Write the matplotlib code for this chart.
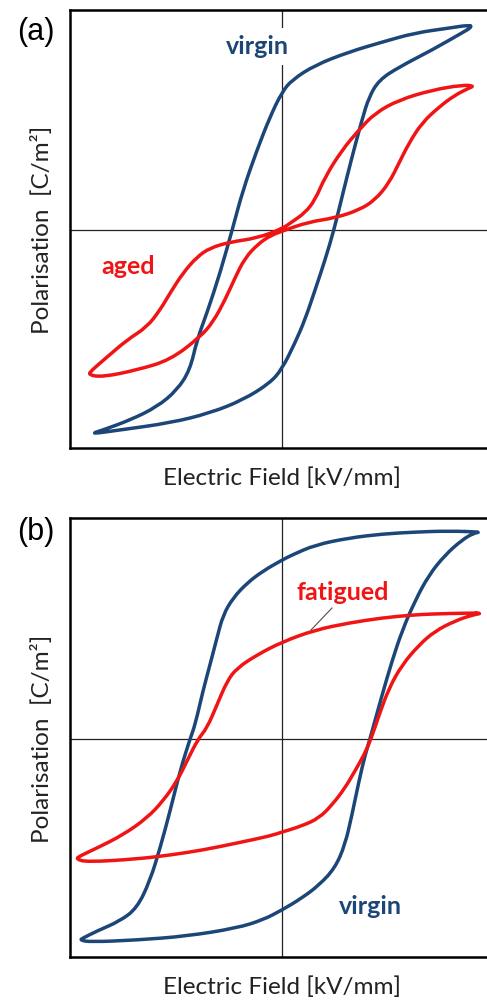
import matplotlib
matplotlib.use("Agg")
import matplotlib.pyplot as plt
from matplotlib.path import Path
from matplotlib.patches import PathPatch

W, H = 487, 1001
DPI = 100

BLUE = "#1c4677"
RED = "#f01414"

# --- (a) virgin vs aged loops (field, polarisation; normalised units) ---
virgin_a_E = [0.896, 0.882, 0.788, 0.627, 0.472, 0.316, 0.156, 0.047, 0.0, -0.057, -0.118,
              -0.184, -0.231, -0.292, -0.354, -0.401, -0.434, -0.495, -0.590, -0.717, -0.844,
              -0.906, -0.764, -0.528, -0.340, -0.184, -0.057, 0.0, 0.061, 0.108, 0.156, 0.203,
              0.245, 0.283, 0.330, 0.377, 0.410, 0.458, 0.552, 0.708, 0.849, 0.896]
virgin_a_P = [0.927, 0.936, 0.922, 0.900, 0.858, 0.813, 0.753, 0.685, 0.630, 0.516, 0.365,
              0.183, 0.014, -0.196, -0.379, -0.502, -0.639, -0.731, -0.808, -0.868, -0.913,
              -0.932, -0.913, -0.881, -0.836, -0.776, -0.699, -0.635, -0.516, -0.411, -0.274,
              -0.137, 0.0, 0.151, 0.333, 0.502, 0.607, 0.685, 0.744, 0.822, 0.900, 0.927]

aged_E = [0.906, 0.849, 0.708, 0.552, 0.439, 0.363, 0.283, 0.203, 0.156, 0.108, 0.047, 0.0,
          -0.118, -0.245, -0.340, -0.401, -0.467, -0.528, -0.575, -0.637, -0.731, -0.825,
          -0.896, -0.915, -0.844, -0.684, -0.528, -0.387, -0.325, -0.269, -0.222, -0.175,
          -0.113, -0.057, 0.0, 0.127, 0.250, 0.363, 0.439, 0.505, 0.552, 0.599, 0.660, 0.741,
          0.816, 0.882, 0.906]
aged_P = [0.658, 0.662, 0.639, 0.594, 0.534, 0.457, 0.365, 0.242, 0.137, 0.078, 0.037, 0.005,
          -0.037, -0.055, -0.082, -0.123, -0.196, -0.288, -0.365, -0.443, -0.502, -0.580,
          -0.639, -0.662, -0.671, -0.639, -0.594, -0.489, -0.420, -0.320, -0.219, -0.128,
          -0.064, -0.027, -0.005, 0.037, 0.055, 0.091, 0.137, 0.215, 0.306, 0.397, 0.489, 0.562,
          0.616, 0.648, 0.658]

# --- (b) virgin vs fatigued loops ---
virgin_b_E = [0.939, 0.788, 0.627, 0.472, 0.316, 0.156, 0.047, 0.0, -0.090, -0.165, -0.231,
              -0.278, -0.307, -0.340, -0.373, -0.410, -0.434, -0.481, -0.528, -0.575, -0.623,
              -0.684, -0.764, -0.873, -0.939, -0.953, -0.906, -0.684, -0.448, -0.212, -0.090,
              0.0, 0.094, 0.175, 0.250, 0.297, 0.330, 0.363, 0.392, 0.415, 0.472, 0.519, 0.566,
              0.627, 0.693, 0.769, 0.849, 0.906, 0.939]
virgin_b_P = [0.945, 0.950, 0.945, 0.936, 0.918, 0.886, 0.840, 0.817, 0.767, 0.712, 0.644,
              0.566, 0.461, 0.338, 0.219, 0.064, 0.0, -0.146, -0.329, -0.498, -0.648, -0.772,
              -0.831, -0.877, -0.909, -0.918, -0.927, -0.918, -0.900, -0.863, -0.826, -0.781,
              -0.726, -0.667, -0.589, -0.484, -0.347, -0.192, -0.073, 0.0, 0.201, 0.356, 0.493,
              0.630, 0.749, 0.840, 0.909, 0.941, 0.945]

fatigued_E = [0.948, 0.882, 0.708, 0.613, 0.472, 0.316, 0.156, 0.0, -0.118, -0.212, -0.259,
              -0.307, -0.354, -0.396, -0.448, -0.495, -0.561, -0.637, -0.750, -0.873, -0.953,
              -0.972, -0.920, -0.684, -0.528, -0.373, -0.212, -0.057, 0.0, 0.094, 0.175, 0.236,
              0.297, 0.344, 0.387, 0.420, 0.458, 0.505, 0.566, 0.646, 0.722, 0.816, 0.896, 0.948]
fatigued_P = [0.575, 0.575, 0.571, 0.566, 0.553, 0.530, 0.498, 0.443, 0.384, 0.324, 0.265,
              0.155, 0.050, 0.0, -0.100, -0.192, -0.283, -0.361, -0.438, -0.498, -0.534,
              -0.548, -0.562, -0.548, -0.530, -0.507, -0.475, -0.443, -0.425, -0.397, -0.361,
              -0.301, -0.224, -0.146, -0.073, 0.0, 0.110, 0.233, 0.338, 0.429, 0.493, 0.539,
              0.566, 0.575]

XLABEL = "Electric Field [kV/mm]"
YLABEL = "Polarisation  [C/m²]"

plt.rcParams["font.family"] = ["Lato", "DejaVu Sans"]

fig = plt.figure(figsize=(W / DPI, H / DPI), dpi=DPI)


def px_axes(left, top, right, bottom):
    # axes rectangle given in pixel coordinates (origin top-left)
    return fig.add_axes([left / W, 1 - bottom / H, (right - left) / W, (bottom - top) / H])


def setup(ax, y0, top, bottom):
    ax.set_xlim(-1, 1)
    ax.set_ylim(-(bottom - y0) / 219, (y0 - top) / 219)
    ax.set_xticks([])
    ax.set_yticks([])
    for s in ax.spines.values():
        s.set_linewidth(1.8)
        s.set_color("black")
    ax.axhline(0, color="#222222", lw=0.9, zorder=1)
    ax.axvline(0, color="#222222", lw=0.9, zorder=1)


def loop(ax, E, P, color):
    # closed loop drawn as a chain of quadratic Beziers: the measured points
    # act as control points, joined at the midpoints between them
    pts = list(zip(E, P))
    if pts[0] == pts[-1]:
        pts = pts[:-1]
    n = len(pts)
    mid = lambda a, b: ((a[0] + b[0]) / 2, (a[1] + b[1]) / 2)
    verts = [mid(pts[0], pts[1])]
    codes = [Path.MOVETO]
    for i in range(1, n + 1):
        ctrl = pts[i % n]
        verts += [ctrl, mid(ctrl, pts[(i + 1) % n])]
        codes += [Path.CURVE3, Path.CURVE3]
    ax.add_patch(PathPatch(Path(verts, codes), facecolor="none", edgecolor=color,
                           lw=2.5, joinstyle="round", capstyle="round", zorder=3))


# panel (a)
ax_a = px_axes(70, 10, 494, 448)
setup(ax_a, 230, 10, 448)
loop(ax_a, virgin_a_E, virgin_a_P, BLUE)
loop(ax_a, aged_E, aged_P, RED)
ax_a.text((257 - 282) / 212, (230 - 46) / 219, "virgin", color=BLUE, fontsize=18,
          fontweight="bold", ha="center", va="center", zorder=4,
          bbox=dict(facecolor="white", edgecolor="none", pad=5))
ax_a.text((128 - 282) / 212, (230 - 267) / 219, "aged", color=RED, fontsize=18,
          fontweight="bold", ha="center", va="center", zorder=4)

# panel (b)
ax_b = px_axes(70, 518, 494, 957)
setup(ax_b, 739, 518, 957)
loop(ax_b, virgin_b_E, virgin_b_P, BLUE)
loop(ax_b, fatigued_E, fatigued_P, RED)
ax_b.text((343 - 282) / 212, (739 - 593) / 219, "fatigued", color=RED, fontsize=18,
          fontweight="bold", ha="center", va="center", zorder=4)
ax_b.plot([(332 - 282) / 212, (311 - 282) / 212], [(739 - 608) / 219, (739 - 630) / 219],
          color="#5a4a4a", lw=0.8, zorder=4)
ax_b.text((370 - 282) / 212, (739 - 906) / 219, "virgin", color=BLUE, fontsize=18,
          fontweight="bold", ha="center", va="center", zorder=4)

# axis titles and panel letters
for yc, xl_y, tag, tag_y in [(230, 478, "(a)", 32), (739, 987, "(b)", 532)]:
    fig.text(282 / W, 1 - xl_y / H, XLABEL, fontsize=17.5, color="#222222",
             ha="center", va="center")
    fig.text(42 / W, 1 - yc / H, YLABEL, fontsize=17.5, color="#222222",
             ha="center", va="center", rotation=90)
    fig.text(36 / W, 1 - tag_y / H, tag, fontsize=22, color="black",
             family="Liberation Sans", ha="center", va="center")

fig.savefig("out.png", dpi=DPI)
